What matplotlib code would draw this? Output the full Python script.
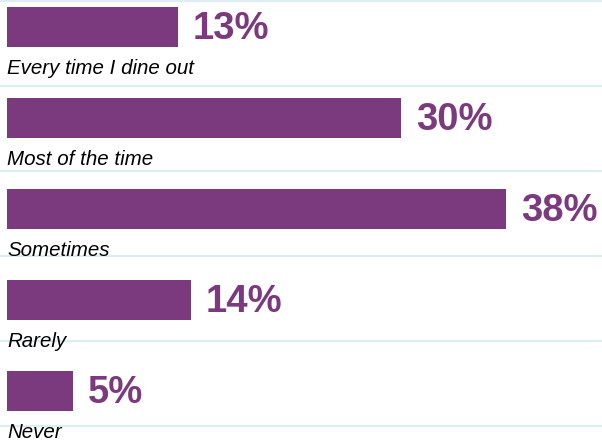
import matplotlib.pyplot as plt
import numpy as np

# answers and their share (%)
answers = ["Every time I dine out", "Most of the time", "Sometimes", "Rarely", "Never"]
shares = [13, 30, 38, 14, 5]

purple = "#7b3a7e"
line_col = "#dcedf4"

fig = plt.figure(figsize=(6.02, 4.42), dpi=100)
ax = fig.add_axes([0, 0, 1, 1])

# pixel layout -> data units (13.13 px per percent, 91 px per row)
px_per_pct = 13.13
row_px = 91.0
y0_px = 26.5
ax.set_xlim(-7 / px_per_pct, (602 - 7) / px_per_pct)
ax.set_ylim((442 - y0_px) / row_px, -y0_px / row_px)
ax.axis("off")

rows = np.arange(len(answers))

# thin separator lines
for k in range(6):
    ax.axhline((1 + 85 * k - y0_px) / row_px, color=line_col, lw=1.6, zorder=0)

ax.barh(rows, shares, height=40 / row_px, color=purple, zorder=2)

for r, v, name in zip(rows, shares, answers):
    ax.text(v + 15 / px_per_pct, r + 0.025, f"{v}%", color=purple,
            fontsize=27.5, fontweight="bold", family="Liberation Sans",
            va="center", ha="left", zorder=3)
    ax.text(0, r + 47.5 / row_px, name, color="black", fontsize=14.8,
            style="italic", family="Liberation Sans",
            va="baseline", ha="left", zorder=3)

fig.savefig("out.png", dpi=100)
